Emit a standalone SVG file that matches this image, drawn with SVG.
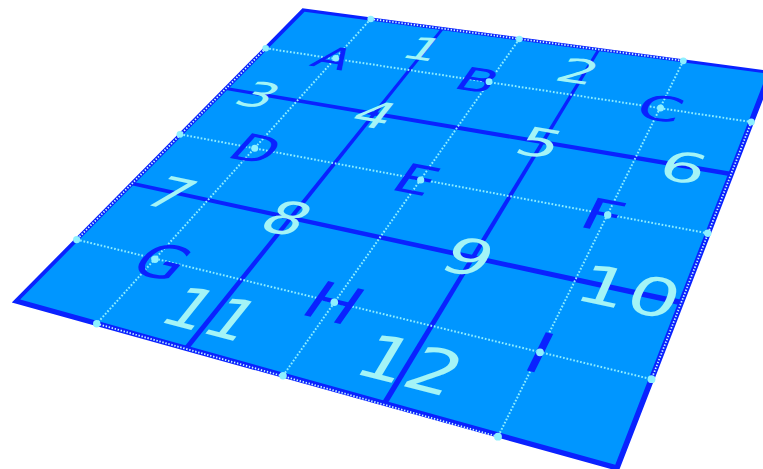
<svg xmlns="http://www.w3.org/2000/svg" width="763" height="469" viewBox="0 0 763 469">
<style>
.board{fill:#0096ff}
.thick{fill:#0a22ff}
.frame{fill:#0a22ff;fill-rule:evenodd}
.dl{fill:none;stroke:#8eeeff;stroke-width:2;stroke-dasharray:1.7 1.8}
.bd{fill:none;stroke:#c8f6ff;stroke-width:1.8;stroke-dasharray:1.4 1.7}
.num{fill:#a4f4f6;font-family:"DejaVu Sans","Liberation Sans",sans-serif;font-size:36px;text-anchor:middle}
.let{fill:#0a22ff;font-family:"DejaVu Sans","Liberation Sans",sans-serif;font-size:34px;text-anchor:middle}
.dot{fill:#8ef0ff}
</style>
<rect width="763" height="469" fill="#ffffff"/>
<g id="board">
<polygon class="board" points="303.5,10 770.5,72.5 617,468 16,301"/>
<polygon class="thick" points="443.59,29.48 188.45,349.56 184.55,346.44 441.41,27.73"/>
<polygon class="thick" points="599.78,50.78 387.31,403.90 382.69,401.10 597.22,49.22"/>
<polygon class="thick" points="225.73,90.08 730.60,176.37 731.40,171.63 226.27,86.92"/>
<polygon class="thick" points="131.60,185.36 680.43,305.14 681.57,299.86 132.40,181.64"/>
<path class="frame" d="M302.46,8.35 L773.92,71.44 L618.76,471.2 L11.8,302.54 Z M304.54,11.65 L767.08,73.56 L615.24,464.8 L20.2,299.46 Z"/>
</g>
<g id="connectors">
<line class="dl" x1="265.7" y1="48.3" x2="751.3" y2="122"/>
<line class="dl" x1="180" y1="134.3" x2="707.7" y2="233.3"/>
<line class="dl" x1="76.7" y1="239.6" x2="651.5" y2="379.2"/>
<line class="dl" x1="370.7" y1="19" x2="96.7" y2="323.7"/>
<line class="dl" x1="519.3" y1="39" x2="283" y2="375.7"/>
<line class="dl" x1="683.3" y1="60.8" x2="498" y2="436.7"/>
<line class="bd" x1="370.7" y1="19" x2="683.3" y2="60.8"/>
<line class="bd" x1="265.7" y1="48.3" x2="76.7" y2="239.6"/>
<line class="bd" x1="96.7" y1="323.7" x2="498" y2="436.7"/>
<line class="bd" x1="751.3" y1="122" x2="651.5" y2="379.2"/>
</g>
<g id="boundary-points">
<circle class="dot" cx="370.7" cy="19" r="3.3"/>
<circle class="dot" cx="519.3" cy="39" r="3.3"/>
<circle class="dot" cx="683.3" cy="60.8" r="3.4"/>
<circle class="dot" cx="265.7" cy="48.3" r="3.3"/>
<circle class="dot" cx="180" cy="134.3" r="3.4"/>
<circle class="dot" cx="76.7" cy="239.6" r="3.6"/>
<circle class="dot" cx="751.3" cy="122" r="3.5"/>
<circle class="dot" cx="707.7" cy="233.3" r="3.7"/>
<circle class="dot" cx="651.5" cy="379.2" r="3.9"/>
<circle class="dot" cx="96.7" cy="323.7" r="3.7"/>
<circle class="dot" cx="283" cy="375.7" r="3.8"/>
<circle class="dot" cx="498" cy="436.7" r="3.9"/>
</g>
<g id="node-A"><text class="let" transform="matrix(1.4532 0.2224 -0.7325 0.8148 335.7 58.3)" x="-1" y="12.4">A</text><circle class="dot" cx="335.7" cy="58.3" r="3.3"/></g>
<g id="node-B"><text class="let" transform="matrix(1.6190 0.2477 -0.6199 0.8834 489.09 81.77)" x="-7" y="12.4">B</text><circle class="dot" cx="489" cy="81.7" r="3.4"/></g>
<g id="node-C"><text class="let" transform="matrix(1.8149 0.2777 -0.4751 0.9631 660.49 108.0)" x="0" y="12.4">C</text><circle class="dot" cx="660.5" cy="108" r="3.5"/></g>
<g id="node-D"><text class="let" transform="matrix(1.5581 0.2979 -0.8937 0.9940 254.79 148.29)" x="1" y="12.4">D</text><circle class="dot" cx="254.7" cy="148.3" r="3.5"/></g>
<g id="node-E"><text class="let" transform="matrix(1.7562 0.3358 -0.7652 1.0904 420.21 179.92)" x="-2" y="12.4">E</text><circle class="dot" cx="420.7" cy="180" r="3.6"/></g>
<g id="node-F"><text class="let" transform="matrix(1.9946 0.3813 -0.5941 1.2044 607.38 215.70)" x="-2" y="12.4">F</text><circle class="dot" cx="607.7" cy="215" r="3.7"/></g>
<g id="node-G"><text class="let" transform="matrix(1.6753 0.4047 -1.1144 1.2396 155.0 259.30)" x="4.5" y="12.4">G</text><circle class="dot" cx="155" cy="259.3" r="3.7"/></g>
<g id="node-H"><text class="let" transform="matrix(1.9157 0.4628 -0.9681 1.3797 334.15 302.57)" x="0" y="12.4">H</text><circle class="dot" cx="334.3" cy="302.3" r="3.8"/></g>
<g id="node-I"><text class="let" transform="matrix(2.2120 0.5343 -0.7641 1.5492 540.0 352.3)" x="0" y="12.4">I</text><circle class="dot" cx="540" cy="352.3" r="3.9"/></g>
<g id="n1"><text class="num" transform="matrix(1.5051 0.2181 -0.6479 0.8081 426.91 49.02)" x="-2" y="13.1">1</text></g>
<g id="n2"><text class="num" transform="matrix(1.6774 0.2430 -0.5248 0.8762 585.80 72.04)" x="-4.5" y="13.1">2</text></g>
<g id="n3"><text class="num" transform="matrix(1.4635 0.2501 -0.8324 0.8793 260.16 94.72)" x="-1" y="13.1">3</text></g>
<g id="n4"><text class="num" transform="matrix(1.5907 0.2718 -0.7509 0.9367 374.60 114.28)" y="13.1">4</text></g>
<g id="n5"><text class="num" transform="matrix(1.7880 0.3055 -0.6135 1.0243 543.25 143.10)" x="-1.7" y="13.1">5</text></g>
<g id="n6"><text class="num" transform="matrix(1.9611 0.3351 -0.4832 1.1000 683.69 167.09)" y="13.1">6</text></g>
<g id="n7"><text class="num" transform="matrix(1.5667 0.3361 -1.0231 1.0807 167.88 192.21)" x="2" y="13.1">7</text></g>
<g id="n8"><text class="num" transform="matrix(1.7189 0.3687 -0.9316 1.1620 290.96 218.60)" x="-2.3" y="13.1">8</text></g>
<g id="n9"><text class="num" transform="matrix(1.9587 0.4202 -0.7716 1.2883 474.45 257.97)" x="-2.8" y="13.1">9</text></g>
<g id="n10"><text class="num" transform="matrix(2.1732 0.4662 -0.6147 1.3994 629.19 291.16)" y="13.1">10</text></g>
<g id="n11"><text class="num" transform="matrix(1.8264 0.4690 -1.1135 1.3890 214.57 313.89)" x="-1.5" y="13.1">11</text></g>
<g id="n12"><text class="num" transform="matrix(2.1078 0.5412 -0.9340 1.5595 410.78 364.27)" y="13.1">12</text></g>
</svg>
